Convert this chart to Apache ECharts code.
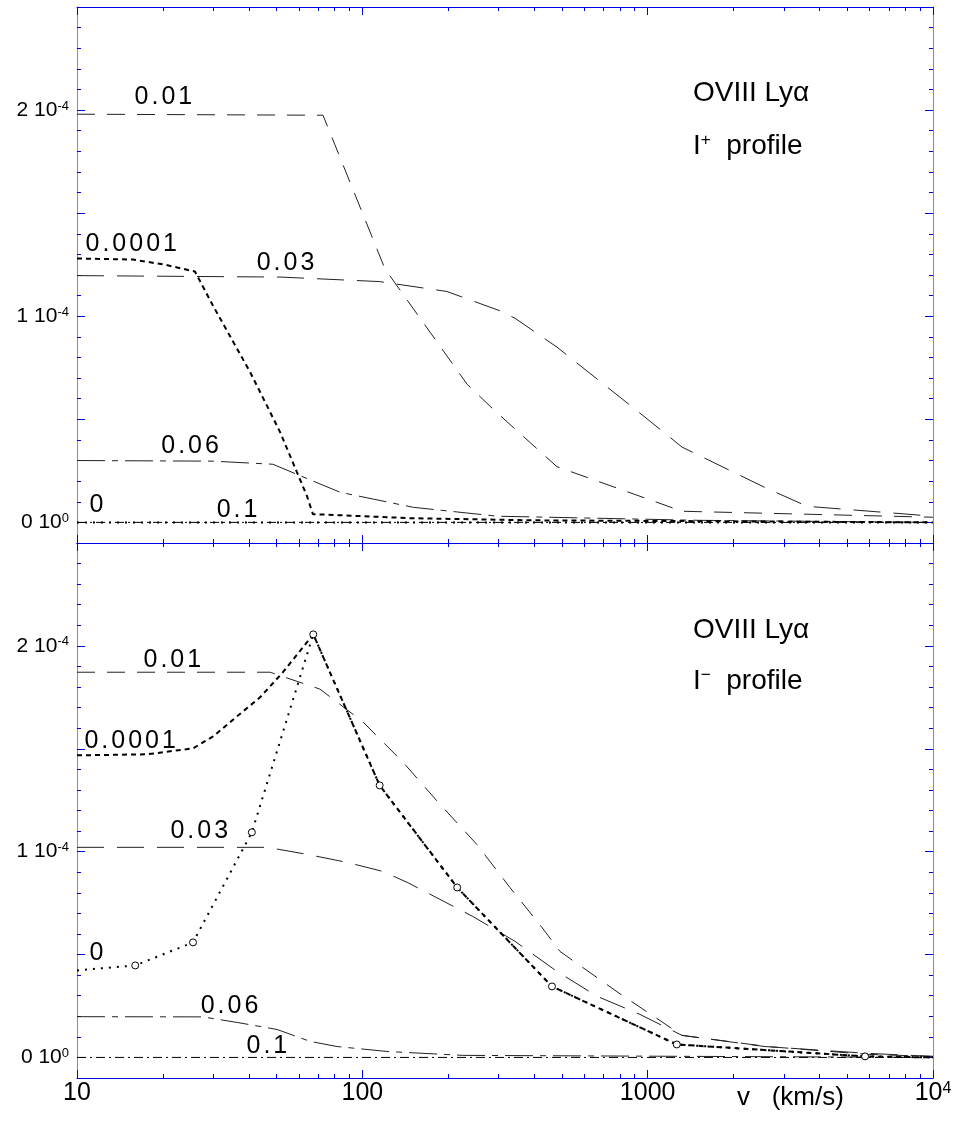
<!DOCTYPE html>
<html>
<head>
<meta charset="utf-8">
<title>OVIII Lyα profiles</title>
<script src="https://cdn.jsdelivr.net/npm/echarts@6/dist/echarts.min.js"></script>
<style>
  html, body { margin: 0; padding: 0; background: #fff; }
  #chart { width: 956px; height: 1123px; }
</style>
</head>
<body>
<div id="chart"></div>
<script>
// x = v (km/s), y in units of 1e-4
// I+ profile (top panel)
var plus_0001 = [[10,1.28],[15.7,1.275],[20.3,1.25],[25.9,1.217],[30,1.05],[40.4,0.73],[51.5,0.438],[64,0.127],[67.1,0.04],[150,0.02],[400,0.01],[10000,0]];
var plus_01 = [[10,1.98],[72.8,1.975],[120,1.23],[233,0.67],[292,0.54],[481,0.27],[1320,0.054],[10000,0.025]];
var plus_03 = [[10,1.197],[51.5,1.19],[115,1.168],[198,1.12],[304,1.026],[343,0.99],[481,0.85],[940,0.53],[1320,0.365],[2570,0.17],[3620,0.078],[10000,0.03]];
var plus_06 = [[10,0.30],[30,0.297],[48.6,0.282],[59,0.233],[83.6,0.146],[151,0.073],[297,0.03],[1510,0.01],[10000,0]];
var plus_0 = [[10,0],[10000,0]];
var plus_1 = [[10,0],[10000,0]];

// I- profile (bottom panel)
var minus_0001 = [[10,1.468],[17.6,1.473],[25.5,1.502],[30,1.56],[36.4,1.658],[43.8,1.75],[52.7,1.872],[67.3,2.056],[115,1.322],[215,0.826],[462,0.345],[1265,0.063],[5780,0.005],[10000,0]];
var minus_01 = [[10,1.872],[47.5,1.872],[71,1.79],[100.6,1.63],[139,1.434],[183,1.245],[252,1.035],[329,0.826],[426,0.632],[493,0.515],[787,0.316],[1320,0.107],[2620,0.053],[5870,0.015],[10000,0.005]];
var minus_03 = [[10,1.021],[46.4,1.021],[64,0.987],[88.3,0.948],[118,0.904],[143.5,0.851],[244,0.685],[343,0.564],[481,0.418],[665,0.297],[940,0.209],[1320,0.107],[2576,0.053],[5870,0.02],[10000,0.005]];
var minus_06 = [[10,0.198],[27.6,0.197],[36.4,0.17],[50.2,0.136],[65.6,0.078],[81.5,0.053],[122,0.029],[225,0.01],[10000,0]];
var minus_0 = [[10,0.423],[16,0.447],[25.5,0.559],[41,1.094],[67.3,2.056],[115,1.322],[215,0.826],[462,0.345],[1265,0.063],[5780,0.005],[10000,0]];
var minus_1 = [[10,0],[10000,0]];

// curve labels: [text, v, y]
var plusLabels = [['0.01',15.72,2.063],['0.0001',10.58,1.348],['0.03',42.1,1.26],['0.06',19.5,0.372],['0',10.93,0.083],['0.1',30.5,0.061]];
var minusLabels = [['0.01',16.9,1.93],['0.0001',10.49,1.536],['0.03',21.0,1.101],['0',10.93,0.506],['0.06',26.8,0.248],['0.1',38.8,0.053]];

var yTicksMajor = [0, 0.5, 1, 1.5, 2];
var yLabelValues = [0, 1, 2];

var FONT = 'Liberation Sans, Arial, sans-serif';
var BLUE = '#0000e6';
var LIGHTBLUE = '#8080ff';

var styles = {
  '0.0001': {width: 2, type: [5, 4], color: '#000'},
  '0.01': {width: 1, type: [18, 12], color: '#222'},
  '0.03': {width: 1, type: [27, 13], color: '#222'},
  '0.06': {width: 1, type: [28, 7, 6, 7], color: '#222'},
  '0.1': {width: 1, type: [9, 4, 2, 4], color: '#000'},
  '0': {width: 2, type: [2, 6], color: '#000'}
};

var myChart = echarts.init(document.getElementById('chart'), null, {renderer: 'canvas'});

function xAxes(g, showLabels) {
  var base = {
    type: 'log', logBase: 10, min: 10, max: 10000, gridIndex: g,
    axisLine: {show: true, onZero: false, lineStyle: {color: BLUE, width: 1}},
    axisTick: {show: true, inside: true, length: 8, lineStyle: {color: BLUE}},
    minorTick: {show: true, splitNumber: 9, length: 4, lineStyle: {color: BLUE}},
    splitLine: {show: false},
    minorSplitLine: {show: false}
  };
  var bottom = echarts.util.merge({
    position: 'bottom',
    axisLabel: {
      show: showLabels, margin: 3, color: '#000', fontFamily: FONT, fontSize: 25,
      formatter: function (v) { return v === 10000 ? '{n|10}{s|4}' : '{n|' + v + '}'; },
      rich: {
        n: {fontSize: 25, fontFamily: FONT, color: '#000'},
        s: {fontSize: 16, fontFamily: FONT, color: '#000', verticalAlign: 'top'}
      }
    }
  }, base, true);
  var top = echarts.util.merge({position: 'top', axisLabel: {show: false}}, base, true);
  return [bottom, top];
}

function yAxes(g) {
  var base = {type: 'value', min: -0.1, max: 2.5, gridIndex: g, splitLine: {show: false}};
  function make(pos, major, labels) {
    var a = echarts.util.merge({position: pos}, base, true);
    if (!major) {
      a.interval = 0.1;
      a.axisLine = {show: true, onZero: false, lineStyle: {color: LIGHTBLUE, width: 1}};
      a.axisTick = {show: true, inside: true, length: 4, lineStyle: {color: BLUE}};
      a.axisLabel = {show: false};
    } else {
      a.axisLine = {show: false, onZero: false};
      a.axisTick = {show: true, inside: true, length: 8, customValues: yTicksMajor, lineStyle: {color: BLUE}};
      a.axisLabel = labels ? {
        show: true, margin: 8, customValues: yLabelValues,
        formatter: function (v) { return '{n|' + v + ' 10}{s|' + (v === 0 ? '0' : '-4') + '}'; },
        rich: {
          n: {fontSize: 21, fontFamily: FONT, color: '#000'},
          s: {fontSize: 13, fontFamily: FONT, color: '#000', verticalAlign: 'top'}
        }
      } : {show: false};
    }
    return a;
  }
  return [make('left', false), make('left', true, true), make('right', false), make('right', true, false)];
}

function curve(g, name, data, markers) {
  var st = styles[name];
  var s = {
    type: 'line', name: name, xAxisIndex: g * 2, yAxisIndex: g * 4,
    symbol: 'none', silent: true,
    lineStyle: {color: st.color, width: st.width, type: st.type},
    data: data
  };
  if (markers) {
    s.symbol = 'circle';
    s.symbolSize = 7;
    s.showSymbol = true;
    s.showAllSymbol = true;
    s.itemStyle = {color: '#fff', borderColor: '#000', borderWidth: 1};
    s.data = data.map(function (d, i) {
      return (i === 0 || i === data.length - 1) ? {value: d, symbol: 'none'} : {value: d};
    });
  }
  return s;
}

function labelSeries(g, labels) {
  return {
    type: 'scatter', xAxisIndex: g * 2, yAxisIndex: g * 4, symbolSize: 0, silent: true,
    itemStyle: {color: '#000', opacity: 1},
    data: labels.map(function (l) { return {name: l[0], value: [l[1], l[2]]}; }),
    label: {
      show: true, position: 'right', distance: 0, color: '#000', opacity: 1,
      textBorderWidth: 0,
      formatter: function (p) {
        return p.name.split('').map(function (c) { return '{c|' + c + '}'; }).join('');
      },
      rich: {c: {fontSize: 25, fontFamily: FONT, color: '#000', padding: [0, 1.5]}}
    }
  };
}

function panelText(y1, y2, sign) {
  return [
    {type: 'text', left: 693, top: y1 - 16, style: {text: 'OVIII Lyα', font: '28px ' + FONT, fill: '#000'}},
    {type: 'text', left: 693, top: y2 - 16, style: {
      text: '{m|I}{s|' + sign + '}{m|  profile}',
      rich: {
        m: {fontSize: 28, fontFamily: FONT, fill: '#000', color: '#000'},
        s: {fontSize: 17, fontFamily: FONT, fill: '#000', color: '#000', verticalAlign: 'top'}
      }
    }}
  ];
}

var option = {
  animation: false,
  backgroundColor: '#fff',
  grid: [
    {left: 77, right: 23, top: 7, height: 536, outerBoundsMode: 'none'},
    {left: 77, right: 23, top: 543, height: 535, outerBoundsMode: 'none'}
  ],
  xAxis: xAxes(0, false).concat(xAxes(1, true)),
  yAxis: yAxes(0).concat(yAxes(1)),
  series: [
    curve(0, '0.01', plus_01),
    curve(0, '0.03', plus_03),
    curve(0, '0.06', plus_06),
    curve(0, '0.1', plus_1),
    curve(0, '0', plus_0),
    curve(0, '0.0001', plus_0001),
    labelSeries(0, plusLabels),
    curve(1, '0.01', minus_01),
    curve(1, '0.03', minus_03),
    curve(1, '0.06', minus_06),
    curve(1, '0.1', minus_1),
    curve(1, '0.0001', minus_0001),
    curve(1, '0', minus_0, true),
    labelSeries(1, minusLabels)
  ],
  graphic: panelText(95, 148, '+').concat(panelText(632, 683, '\u2212')).concat([
    {type: 'text', left: 737, top: 1100 - 15, style: {text: 'v   (km/s)', font: '26px ' + FONT, fill: '#000'}}
  ])
};
myChart.setOption(option);
</script>
</body>
</html>
